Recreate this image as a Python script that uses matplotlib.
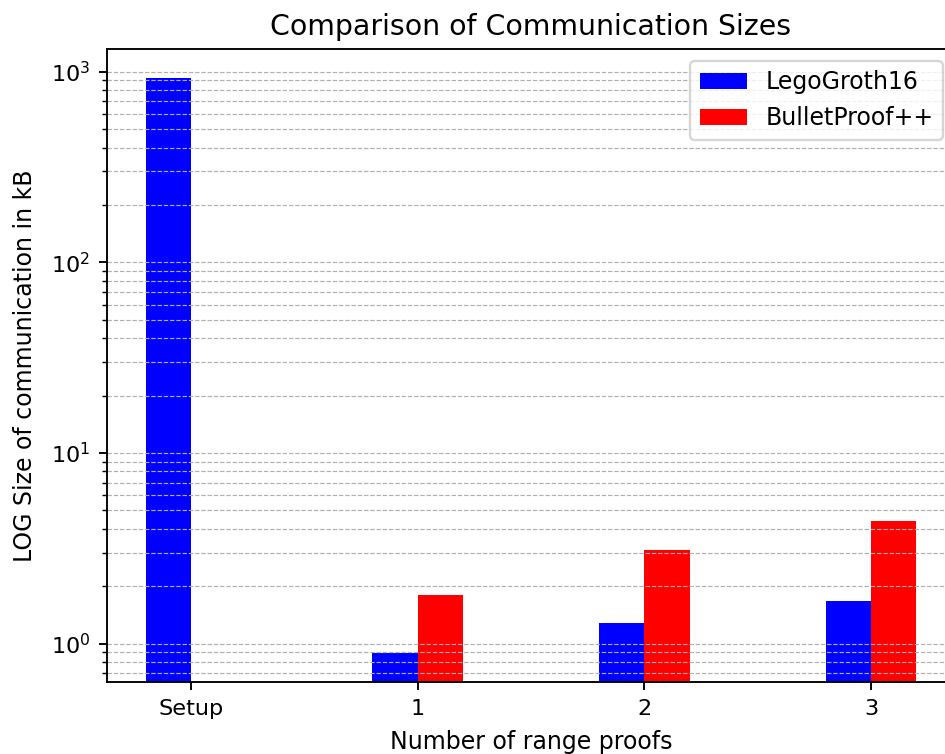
import numpy as np
import matplotlib.pyplot as plt

categories = ["Setup", "1", "2", "3"]
lego_groth16 = [930, 0.89, 1.29, 1.68]
bulletproof = [0, 1.80, 3.09, 4.38]

dpi = 170
fig = plt.figure(figsize=(945 / dpi, 754 / dpi), dpi=dpi)
ax = fig.add_axes([107 / 945, 72 / 754, 848 / 945, 633 / 754])

x = np.arange(len(categories))
width = 0.2
ax.bar(x - width / 2, lego_groth16, width, label="LegoGroth16", color="blue")
ax.bar(x + width / 2, bulletproof, width, label="BulletProof++", color="red")

ax.set_yscale("log")
ax.set_xticks(x)
ax.set_xticklabels(categories)
ax.tick_params(labelsize=9.5)
ax.set_xlabel("Number of range proofs", labelpad=5)
ax.set_ylabel("LOG Size of communication in kB", labelpad=6)
ax.set_title("Comparison of Communication Sizes", pad=6)
ax.legend(loc="upper right")
ax.grid(True, which="both", axis="y", linestyle="--", linewidth=0.5, color="#b0b0b0")

fig.savefig("out.png", dpi=dpi)
